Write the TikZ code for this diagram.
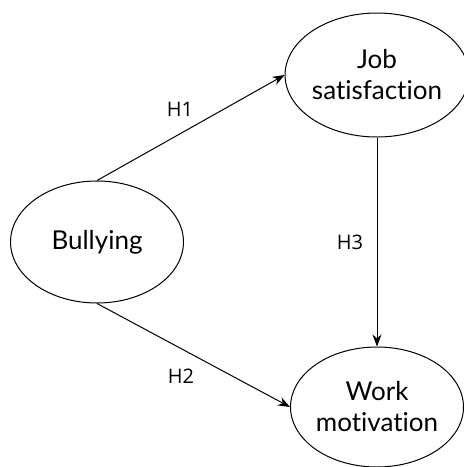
\documentclass[tikz,border=0pt]{standalone}
\usepackage{fontspec}
\setmainfont{Lato}[Ligatures=NoCommon]
\newfontfamily\hypfont{Open Sans}
\usepackage{tikz}
\usetikzlibrary{arrows.meta}
\usetikzlibrary{shapes.geometric}
\tikzstyle{every node}=[inner sep=0pt]
\tikzset{var/.style={ellipse, draw, line width=0.5pt, minimum width=86.5pt, minimum height=61pt,
      align=center, font=\fontsize{13}{15.5}\selectfont}}
\tikzset{hyp/.style={font=\hypfont\fontsize{10}{12}\selectfont}}
\tikzset{path/.style={-{Stealth[length=6pt,width=4.5pt]}, line width=0.5pt}}

\begin{document}
\begin{tikzpicture}[x=0.5pt,y=-0.5pt]
		\useasboundingbox (0,0) rectangle (463,467);
		\node[var] (bully) at (97,242) {Bullying};
		\node[var, minimum height=62pt] (job) at (377,75) {Job\\satisfaction};
		\node[var, minimum height=60pt] (work) at (377,407) {Work\\motivation};
		\draw[path] (bully.north) -- (job.west);
		\draw[path] (bully.south) -- (work.west);
		\draw[path] (job.south) -- (work.north);
		\node[hyp] (h1) at (180,109) {H1};
		\node[hyp] (h2) at (181,376) {H2};
		\node[hyp] (h3) at (350,242) {H3};
		\end{tikzpicture}
\end{document}
